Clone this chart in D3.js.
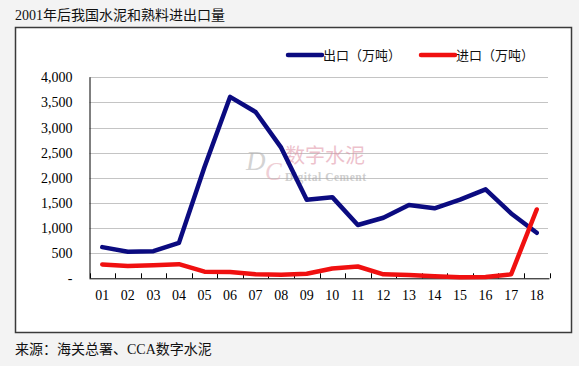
<!DOCTYPE html>
<html><head><meta charset="utf-8">
<script src="https://cdn.jsdelivr.net/npm/d3@7"></script>
<style>
html,body{margin:0;padding:0;background:#f3f3f3;}
svg{display:block;}
</style></head>
<body>
<svg id="c" width="579" height="366"></svg>
<script>
const categories = ["01","02","03","04","05","06","07","08","09","10","11","12","13","14","15","16","17","18"];
const exportValues = [620,530,540,705,2216,3610,3310,2600,1565,1615,1061,1205,1460,1393,1565,1770,1290,905];
const importValues = [275,245,258,282,132,125,80,72,92,195,235,80,66,42,22,26,80,1370];
const yTicks = [0,500,1000,1500,2000,2500,3000,3500,4000];
const seriesNames = ["出口（万吨）","进口（万吨）"];
const seriesColors = ["#0b0b80","#f01010"];

const svg = d3.select("#c");
const serif = "'Liberation Serif','Times New Roman','Noto Serif CJK SC','Noto Sans CJK SC',serif";
const cjk = "'Liberation Serif','Noto Sans CJK SC',sans-serif";

// outer frame
svg.append("rect").attr("x",15.5).attr("y",27.5).attr("width",556).attr("height",305)
  .attr("fill","#ffffff").attr("stroke","#3a3a3a").attr("stroke-width",1.5);

// title
svg.append("text").attr("x",15).attr("y",20).attr("font-family",cjk).attr("font-size",14)
  .attr("fill","#111").text("2001年后我国水泥和熟料进出口量");
// source
svg.append("text").attr("x",15).attr("y",354).attr("font-family",cjk).attr("font-size",14)
  .attr("fill","#111").text("来源：海关总署、CCA数字水泥");

const x0 = 89.5, x1 = 549.5, yTop = 77.3, yBot = 278.3;
const x = d3.scaleBand().domain(categories).range([x0,x1]).padding(0);
const y = d3.scaleLinear().domain([0,4000]).range([yBot,yTop]);

// gridlines
svg.append("g").selectAll("line").data(yTicks.filter(d=>d>0)).join("line")
  .attr("x1",x0).attr("x2",x1-1.5).attr("y1",d=>Math.round(y(d))+0.5).attr("y2",d=>Math.round(y(d))+0.5)
  .attr("stroke","#c4c4c4").attr("stroke-width",1);

// watermark
const wm = svg.append("g").attr("opacity",0.55);
wm.append("text").attr("x",246).attr("y",170).attr("font-family","'Liberation Serif',serif")
  .attr("font-style","italic").attr("font-size",27).attr("fill","#b0b0b0").text("D");
wm.append("text").attr("x",265).attr("y",180).attr("font-family","'Liberation Serif',serif")
  .attr("font-style","italic").attr("font-size",25).attr("fill","#e3a9b4").text("C");
wm.append("text").attr("x",285).attr("y",163).attr("font-family","'Noto Sans CJK SC',sans-serif")
  .attr("font-size",20).attr("fill","#e08fa3").text("数字水泥");
wm.append("text").attr("x",285).attr("y",181).attr("font-family","'Liberation Serif',serif")
  .attr("font-weight","bold").attr("font-size",11.5).attr("textLength",81).attr("lengthAdjust","spacing")
  .attr("fill","#a8a8a8").text("Digital Cement");

// y axis
const yAxis = d3.axisLeft(y).tickValues(yTicks).tickSize(0).tickPadding(17)
  .tickFormat(d => d===0 ? "-" : d3.format(",")(d));
const gy = svg.append("g").attr("transform",`translate(${x0},0)`).call(yAxis);
gy.select(".domain").attr("stroke","#000").attr("d",`M0.5,${yTop}V${yBot}`);
gy.selectAll("text").attr("font-family",serif).attr("font-size",14).attr("fill","#000");

// x axis
const xAxis = d3.axisBottom(x).tickSize(0).tickPadding(12);
const gx = svg.append("g").attr("transform",`translate(0,${yBot})`).call(xAxis);
gx.select(".domain").attr("stroke","#000").attr("d",`M${x0},0.5H${x1}`);
gx.selectAll("text").attr("font-family",serif).attr("font-size",14).attr("fill","#000");
const bounds = categories.map(c=>x(c)).concat([x1]);
gx.append("g").selectAll("line").data(bounds).join("line")
  .attr("x1",d=>Math.round(d)+0.5).attr("x2",d=>Math.round(d)+0.5).attr("y1",0).attr("y2",-5)
  .attr("stroke","#000");

// lines
const line = d3.line().x((d,i)=>x(categories[i])+x.bandwidth()/2).y(d=>y(d));
svg.append("path").datum(exportValues).attr("d",line).attr("fill","none")
  .attr("stroke",seriesColors[0]).attr("stroke-width",4.5).attr("stroke-linejoin","round").attr("stroke-linecap","round");
svg.append("path").datum(importValues).attr("d",line).attr("fill","none")
  .attr("stroke",seriesColors[1]).attr("stroke-width",4.5).attr("stroke-linejoin","round").attr("stroke-linecap","round");

// legend
const legX = [288,421];
seriesNames.forEach((n,i)=>{
  svg.append("line").attr("x1",legX[i]).attr("x2",legX[i]+34).attr("y1",55).attr("y2",55)
    .attr("stroke",seriesColors[i]).attr("stroke-width",4.5).attr("stroke-linecap","round");
  svg.append("text").attr("x",legX[i]+35).attr("y",60).attr("font-family","'Noto Sans CJK SC',sans-serif")
    .attr("font-size",13).attr("fill","#111").text(n);
});
</script>
</body></html>
